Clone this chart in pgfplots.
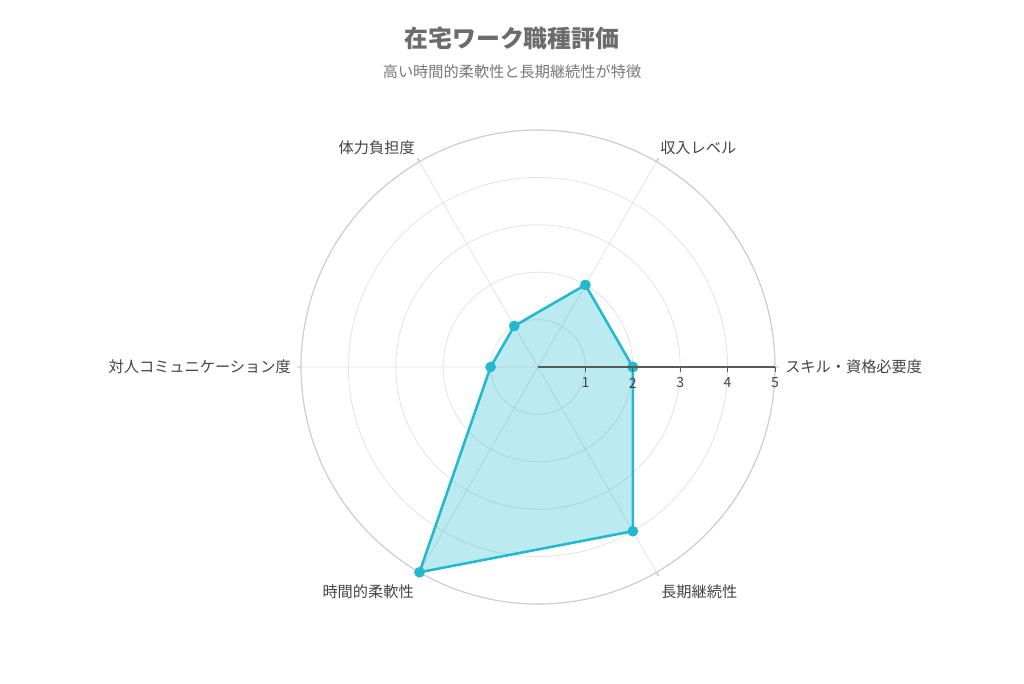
\documentclass[border=0pt]{standalone}
\usepackage{pgfplots}
\pgfplotsset{compat=1.18}
\usepgfplotslibrary{polar}
\usetikzlibrary{calc}
\usepackage{fontspec}
\setmainfont{Noto Sans CJK JP}
\definecolor{series}{HTML}{22B8CF}
\definecolor{titlegray}{HTML}{6B6B6B}
\definecolor{subgray}{HTML}{777777}
\definecolor{labelgray}{HTML}{444444}
\begin{document}
\begin{tikzpicture}[x=0.75pt,y=0.75pt]
\begin{polaraxis}[
  width=355.5pt, height=355.5pt, scale only axis,
  ymin=0, ymax=5,
  xtick={0,60,...,300}, ytick={1,2,3,4,5},
  xticklabels={}, yticklabels={},
  grid=major,
  major grid style={draw=black!11, line width=0.6pt},
  axis line style={draw=black!20, line width=0.8pt},
  xtick style={draw=black!35, line width=0.6pt},
  ytick style={draw=none},
  major tick length=3pt,
  clip=false,
]
\addplot[draw=series, line width=1.9pt, fill=series, fill opacity=0.3,
  mark=*, mark size=3pt, mark options={fill=series, draw=series, fill opacity=1}]
  coordinates {(0,2) (60,2) (120,1) (180,1) (240,5) (300,4) (360,2)};
\coordinate (C) at (axis cs:0,0);
\coordinate (R) at (axis cs:0,5);
\end{polaraxis}
\draw[black!65, line width=0.8pt] (C) -- (R);
\foreach \k in {1,...,5} {
  \draw[black!65, line width=0.6pt] ($(C)+(47.4*\k,0)$) -- ++(0,-5);
  \node[font=\fontsize{10.5}{12}\selectfont, text=labelgray, inner sep=0pt] at ($(C)+(47.4*\k,-16)$) {\k};
}
\begin{scope}[every node/.style={inner sep=0pt, text=labelgray, font=\fontsize{11.4}{13}\selectfont}]
\node[anchor=west] at ($(C)+(247,0)$) {スキル・資格必要度};
\node[anchor=west] at ($(C)+(122,219)$) {収入レベル};
\node[anchor=east] at ($(C)+(-123,219)$) {体力負担度};
\node[anchor=east] at ($(C)+(-247,0)$) {対人コミュニケーション度};
\node[anchor=east] at ($(C)+(-124,-225)$) {時間的柔軟性};
\node[anchor=west] at ($(C)+(123,-225)$) {長期継続性};
\end{scope}
\node[inner sep=0pt, text=titlegray, font=\fontsize{17.9}{20}\selectfont\bfseries] at ($(C)+(-26,329)$) {在宅ワーク職種評価};
\node[inner sep=0pt, text=subgray, font=\fontsize{11.4}{13}\selectfont] at ($(C)+(-26,295)$) {高い時間的柔軟性と長期継続性が特徴};
\pgfresetboundingbox
\path ($(C)+(-538,367)$) rectangle ($(C)+(486,-316)$);
\end{tikzpicture}
\end{document}
